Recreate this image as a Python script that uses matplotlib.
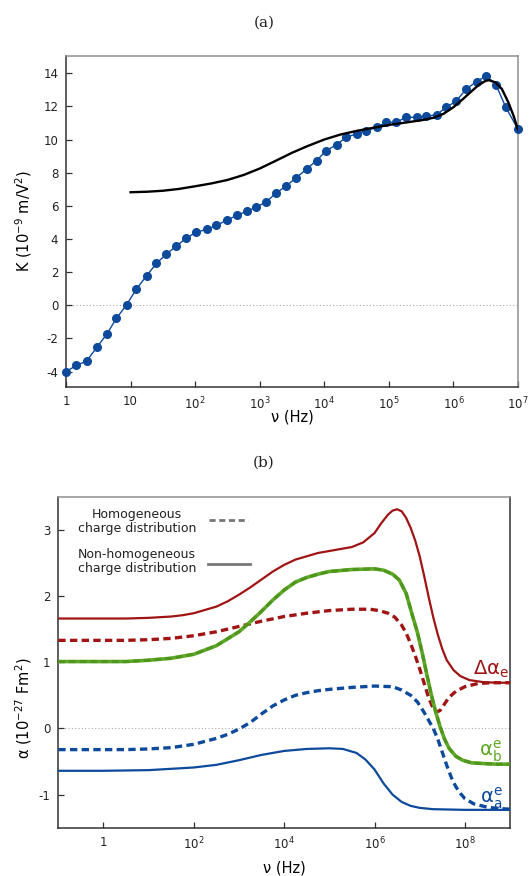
import numpy as np
import matplotlib
matplotlib.use("Agg")
import matplotlib.pyplot as plt
from matplotlib.ticker import FixedLocator, FixedFormatter

plt.rcParams['font.family'] = ['DejaVu Sans']
plt.rcParams['mathtext.fontset'] = 'dejavusans'
plt.rcParams['axes.unicode_minus'] = False

# ---- panel (a): measured K and fit ----
a_logf = [0.00, 0.16, 0.32, 0.48, 0.63, 0.78, 0.94, 1.09, 1.25, 1.40, 1.55, 1.71,
          1.86, 2.01, 2.18, 2.33, 2.49, 2.65, 2.80, 2.95, 3.10, 3.25, 3.41, 3.56,
          3.73, 3.88, 4.03, 4.19, 4.34, 4.50, 4.65, 4.81, 4.96, 5.11, 5.27, 5.43,
          5.58, 5.74, 5.89, 6.04, 6.20, 6.36, 6.51, 6.66, 6.81, 7.00]
a_K = [-4.00, -3.63, -3.36, -2.52, -1.75, -0.79, 0.04, 0.98, 1.79, 2.53, 3.07, 3.58,
       4.04, 4.40, 4.58, 4.82, 5.13, 5.43, 5.67, 5.93, 6.23, 6.76, 7.20, 7.68,
       8.23, 8.73, 9.33, 9.69, 10.14, 10.34, 10.54, 10.74, 11.04, 11.04, 11.34, 11.34,
       11.40, 11.50, 11.95, 12.31, 13.05, 13.50, 13.84, 13.30, 11.95, 10.62]

fit_logf = [1.00, 1.25, 1.50, 1.75, 2.00, 2.25, 2.50, 2.75, 3.00, 3.25, 3.50, 3.75,
            4.00, 4.25, 4.50, 4.75, 5.00, 5.25, 5.50, 5.70, 5.85, 6.00, 6.15, 6.30,
            6.40, 6.50, 6.55, 6.65, 6.75, 6.85, 6.93, 7.00]
fit_K = [6.82, 6.85, 6.91, 7.02, 7.18, 7.35, 7.56, 7.86, 8.25, 8.72, 9.20, 9.62,
         10.00, 10.30, 10.52, 10.70, 10.88, 11.02, 11.16, 11.32, 11.56, 11.95, 12.45, 12.98,
         13.32, 13.54, 13.58, 13.45, 13.05, 12.25, 11.45, 10.58]

a_ticks = [1, 10, 1e2, 1e3, 1e4, 1e5, 1e6, 1e7]
a_ticklabels = ['1', '10', '$\\mathregular{10^2}$', '$\\mathregular{10^3}$', '$\\mathregular{10^4}$',
                '$\\mathregular{10^5}$', '$\\mathregular{10^6}$', '$\\mathregular{10^7}$']

# ---- panel (b): polarizabilities ----
red_nh_logf = [-1, 0, 0.5, 1.0, 1.5, 1.75, 2.0, 2.25, 2.5, 2.75, 3.0, 3.25, 3.5, 3.75,
               4.0, 4.25, 4.5, 4.75, 5.0, 5.25, 5.5, 5.75, 6.0, 6.15, 6.3, 6.4, 6.5,
               6.6, 6.7, 6.8, 6.9, 7.0, 7.1, 7.2, 7.3, 7.4, 7.5, 7.6, 7.75, 7.9, 8.1,
               8.4, 8.7, 9.0]
red_nh = [1.66, 1.66, 1.66, 1.67, 1.69, 1.71, 1.74, 1.79, 1.84, 1.92, 2.02, 2.13, 2.25, 2.37,
          2.47, 2.55, 2.60, 2.65, 2.68, 2.71, 2.74, 2.81, 2.95, 3.10, 3.23, 3.29, 3.31,
          3.28, 3.18, 3.03, 2.84, 2.60, 2.30, 1.98, 1.68, 1.42, 1.20, 1.03, 0.88, 0.79, 0.73,
          0.70, 0.69, 0.69]

red_h_logf = [-1, 0, 0.5, 1.0, 1.5, 2.0, 2.5, 3.0, 3.5, 4.0, 4.5, 5.0, 5.5, 5.9, 6.1,
              6.3, 6.45, 6.6, 6.7, 6.8, 6.9, 7.0, 7.1, 7.2, 7.3, 7.38, 7.45, 7.55, 7.65,
              7.8, 8.0, 8.3, 8.6, 9.0]
red_h = [1.33, 1.33, 1.33, 1.34, 1.36, 1.40, 1.46, 1.54, 1.62, 1.69, 1.74, 1.78, 1.80, 1.80, 1.78,
         1.74, 1.68, 1.56, 1.44, 1.28, 1.10, 0.90, 0.68, 0.46, 0.30, 0.25, 0.27, 0.37, 0.47,
         0.56, 0.63, 0.68, 0.69, 0.69]

green_logf = [-1, 0, 0.5, 1.0, 1.5, 2.0, 2.5, 3.0, 3.25, 3.5, 3.75, 4.0, 4.25, 4.5, 4.75,
              5.0, 5.5, 6.0, 6.2, 6.4, 6.55, 6.7, 6.85, 6.95, 7.05, 7.15, 7.25, 7.35, 7.45,
              7.55, 7.65, 7.8, 7.95, 8.15, 8.4, 8.7, 9.0]
green = [1.01, 1.01, 1.01, 1.03, 1.06, 1.12, 1.25, 1.46, 1.61, 1.77, 1.94, 2.09, 2.21, 2.28, 2.33,
         2.37, 2.40, 2.41, 2.39, 2.33, 2.24, 2.04, 1.68, 1.45, 1.16, 0.84, 0.53, 0.26, 0.03,
         -0.16, -0.30, -0.42, -0.48, -0.52, -0.53, -0.54, -0.54]

blue_h_logf = [-1, 0, 0.5, 1.0, 1.5, 2.0, 2.5, 2.75, 3.0, 3.25, 3.5, 3.75, 4.0, 4.25, 4.5,
               4.75, 5.0, 5.5, 6.0, 6.4, 6.6, 6.8, 6.95, 7.1, 7.2, 7.3, 7.4, 7.5, 7.6, 7.7,
               7.8, 7.9, 8.0, 8.2, 8.5, 8.75, 9.0]
blue_h = [-0.32, -0.32, -0.32, -0.31, -0.29, -0.24, -0.15, -0.09, -0.01, 0.09, 0.22, 0.34, 0.43,
          0.50, 0.54, 0.57, 0.59, 0.62, 0.64, 0.63, 0.58, 0.50, 0.40, 0.24, 0.12, 0.00, -0.16,
          -0.36, -0.56, -0.74, -0.88, -0.98, -1.06, -1.14, -1.19, -1.21, -1.22]

blue_nh_logf = [-1, 0, 1.0, 1.5, 2.0, 2.5, 3.0, 3.5, 4.0, 4.5, 5.0, 5.3, 5.6, 5.8, 6.0,
                6.2, 6.4, 6.6, 6.8, 7.0, 7.3, 8.0, 9.0]
blue_nh = [-0.64, -0.64, -0.63, -0.61, -0.59, -0.55, -0.48, -0.40, -0.34, -0.31, -0.30, -0.31,
           -0.37, -0.47, -0.62, -0.83, -1.00, -1.11, -1.17, -1.20, -1.22, -1.23, -1.23]

b_ticks = [1, 1e2, 1e4, 1e6, 1e8]
b_ticklabels = ['1', '$\\mathregular{10^2}$', '$\\mathregular{10^4}$', '$\\mathregular{10^6}$',
                '$\\mathregular{10^8}$']

RED = '#a01414'
GREEN = '#5fa827'
GREEN_D = '#4e961c'
BLUE = '#0d4a9c'
DARK = '#333333'
LIGHT = '#909090'


def style_axes(ax, right_color):
    ax.spines['left'].set_color(DARK)
    ax.spines['bottom'].set_color(DARK)
    ax.spines['top'].set_color(LIGHT)
    ax.spines['right'].set_color(right_color)
    for s in ax.spines.values():
        s.set_linewidth(1.1)
    ax.tick_params(direction='in', length=4, width=0.9, color=DARK,
                   labelsize=8.5, labelcolor='#222222', top=False, right=False)
    ax.tick_params(axis='x', pad=6)
    ax.tick_params(axis='y', pad=5.5)
    ax.minorticks_off()
    ax.axhline(0, color='#aaaaaa', lw=0.8, ls=(0, (1, 2)), zorder=0)


fig = plt.figure(figsize=(5.31, 8.76), dpi=100)

# panel (a)
ax1 = fig.add_axes([0.1243, 0.5582, 0.8512, 0.3779])
ax1.plot(10 ** np.array(a_logf), a_K, '-o', color=BLUE, lw=1.0, ms=5.5, clip_on=False, zorder=3)
ax1.plot(10 ** np.array(fit_logf), fit_K, '-', color='black', lw=1.7, zorder=4,
         solid_joinstyle='round')
ax1.set_xscale('log')
ax1.set_xlim(1, 1e7)
ax1.set_ylim(-4.93, 15.04)
style_axes(ax1, LIGHT)
ax1.xaxis.set_major_locator(FixedLocator(a_ticks))
ax1.xaxis.set_major_formatter(FixedFormatter(a_ticklabels))
ax1.xaxis.set_minor_locator(FixedLocator([]))
ax1.set_yticks(np.arange(-4, 15, 2))
ax1.set_xlabel('ν (Hz)', fontsize=10.5)
ax1.set_ylabel('K (10$^{\\mathregular{-9}}$ m/V$^{\\mathregular{2}}$)', fontsize=10.5)
ax1.xaxis.set_label_coords(0.5, -0.092)
ax1.xaxis.label.set_va('center')
ax1.yaxis.set_label_coords(-0.094, 0.5)
ax1.yaxis.label.set_va('center')

# panel (b)
ax2 = fig.add_axes([0.1098, 0.0551, 0.8507, 0.3779])
ax2.plot(10 ** np.array(red_nh_logf), red_nh, '-', color=RED, lw=1.6, zorder=3)
ax2.plot(10 ** np.array(red_h_logf), red_h, '--', color=RED, lw=2.4, dashes=(2.2, 1.3), zorder=3)
ax2.plot(10 ** np.array(green_logf), green, '-', color=GREEN, lw=2.6, zorder=3)
ax2.plot(10 ** np.array(green_logf), green, '--', color=GREEN_D, lw=2.2, dashes=(2.2, 1.3), zorder=4)
ax2.plot(10 ** np.array(blue_h_logf), blue_h, '--', color=BLUE, lw=2.4, dashes=(2.2, 1.3), zorder=3)
ax2.plot(10 ** np.array(blue_nh_logf), blue_nh, '-', color=BLUE, lw=1.6, zorder=3)
ax2.set_xscale('log')
ax2.set_xlim(1e-1, 1e9)
ax2.set_ylim(-1.5, 3.5)
style_axes(ax2, DARK)
ax2.xaxis.set_major_locator(FixedLocator(b_ticks))
ax2.xaxis.set_major_formatter(FixedFormatter(b_ticklabels))
ax2.xaxis.set_minor_locator(FixedLocator([]))
ax2.set_yticks([-1, 0, 1, 2, 3])
ax2.set_xlabel('ν (Hz)', fontsize=10.5)
ax2.set_ylabel('α (10$^{\\mathregular{-27}}$ Fm$^{\\mathregular{2}}$)', fontsize=10.5)
ax2.xaxis.set_label_coords(0.5, -0.122)
ax2.xaxis.label.set_va('center')
ax2.yaxis.set_label_coords(-0.077, 0.362)
ax2.yaxis.label.set_va('center')

# legend drawn by hand
ax2.text(0.174, 0.9245, 'Homogeneous\ncharge distribution', transform=ax2.transAxes,
         ha='center', va='center', fontsize=9, color='#222222', linespacing=1.15)
ax2.plot([0.334, 0.420], [0.9296, 0.9296], transform=ax2.transAxes, color='#777777',
         lw=2.0, ls='--', dashes=(2.2, 1.3))
ax2.text(0.174, 0.8037, 'Non-homogeneous\ncharge distribution', transform=ax2.transAxes,
         ha='center', va='center', fontsize=9, color='#222222', linespacing=1.05)
ax2.plot([0.332, 0.425], [0.7957, 0.7957], transform=ax2.transAxes, color='#777777', lw=2.0)

# curve labels
ax2.text(0.997, 0.478, '$\\mathregular{\\Delta\\alpha_e}$', transform=ax2.transAxes,
         ha='right', va='center', fontsize=14, color=RED)
ax2.text(0.983, 0.232, '$\\mathregular{\\alpha_b^e}$', transform=ax2.transAxes,
         ha='right', va='center', fontsize=14, color=GREEN)
ax2.text(0.983, 0.09, '$\\mathregular{\\alpha_a^e}$', transform=ax2.transAxes,
         ha='right', va='center', fontsize=14, color=BLUE)

# panel letters
fig.text(264 / 531, 1 - 22.5 / 876, '(a)', ha='center', va='center', fontsize=11,
         family='DejaVu Serif', color='#222222')
fig.text(264 / 531, 1 - 462.5 / 876, '(b)', ha='center', va='center', fontsize=11,
         family='DejaVu Serif', color='#222222')

fig.savefig('out.png', dpi=100)
